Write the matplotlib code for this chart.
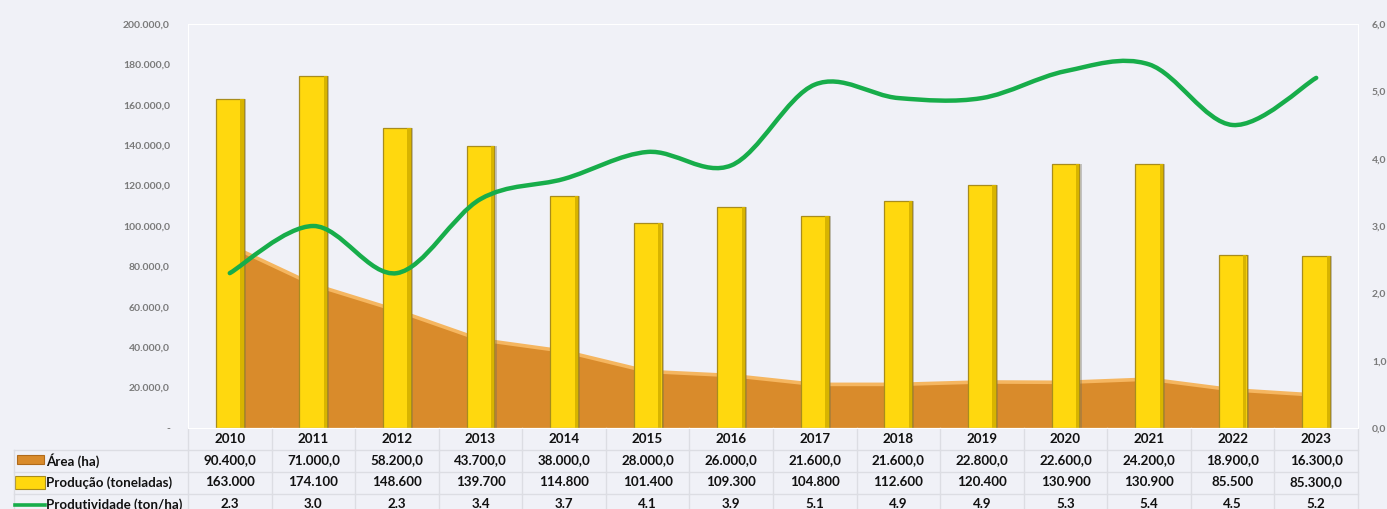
import matplotlib
matplotlib.use("Agg")
import matplotlib.pyplot as plt
from matplotlib.path import Path
from matplotlib.patches import PathPatch, Rectangle
from matplotlib.lines import Line2D
from matplotlib.ticker import FixedLocator, FuncFormatter
from matplotlib.transforms import blended_transform_factory

# ---------------- data ----------------
years = ["2010", "2011", "2012", "2013", "2014", "2015", "2016",
         "2017", "2018", "2019", "2020", "2021", "2022", "2023"]
area_ha = [90400, 71000, 58200, 43700, 38000, 28000, 26000,
           21600, 21600, 22800, 22600, 24200, 18900, 16300]
producao = [163000, 174100, 148600, 139700, 114800, 101400, 109300,
            104800, 112600, 120400, 130900, 130900, 85500, 85300]
produtividade = [2.3, 3.0, 2.3, 3.4, 3.7, 4.1, 3.9,
                 5.1, 4.9, 4.9, 5.3, 5.4, 4.5, 5.2]

area_labels = ["90.400,0", "71.000,0", "58.200,0", "43.700,0", "38.000,0",
               "28.000,0", "26.000,0", "21.600,0", "21.600,0", "22.800,0",
               "22.600,0", "24.200,0", "18.900,0", "16.300,0"]
prod_labels = ["163.000", "174.100", "148.600", "139.700", "114.800",
               "101.400", "109.300", "104.800", "112.600", "120.400",
               "130.900", "130.900", "85.500", "85.300,0"]
produt_labels = ["2.3", "3.0", "2.3", "3.4", "3.7", "4.1", "3.9",
                 "5.1", "4.9", "4.9", "5.3", "5.4", "4.5", "5.2"]
series_names = ["Área (ha)", "Produção (toneladas)", "Produtividade (ton/ha)"]

left_ticks = [0, 20000, 40000, 60000, 80000, 100000, 120000, 140000,
              160000, 180000, 200000]
right_ticks = [0, 1, 2, 3, 4, 5, 6]

# ---------------- style ----------------
BG = "#F0F1F7"
BAR = "#FFD80E"
BAR_EDGE = "#A88C1C"
AREA = "#D98B2B"
AREA_TOP = "#F5B660"
GREEN = "#17AD4A"
GRID = "#DCDDE3"
FONT = "Lato"

W, H = 1387, 509
fig = plt.figure(figsize=(W / 100, H / 100), dpi=100, facecolor=BG)

L, R, T, B = 188, 1358, 24, 428
ax = fig.add_axes([L / W, 1 - B / H, (R - L) / W, (B - T) / H], facecolor=BG)
ax2 = ax.twinx()

x = list(range(len(years)))

# area
ax.fill_between(x, 0, area_ha, color=AREA, lw=0, zorder=1)
ax.plot(x, area_ha, color=AREA_TOP, lw=2.6, zorder=1.5, solid_capstyle="butt")

# bars
bw = 0.335
# soft shadow to the right of each bar
ax.bar([i + 0.025 for i in x], producao, width=bw, color="#6E6A5A", alpha=0.35,
       linewidth=0, zorder=1.8)
ax.bar(x, producao, width=bw, color=BAR, edgecolor=BAR_EDGE, linewidth=0.9, zorder=2)
ax.bar([i + bw / 2 - 0.022 for i in x], producao, width=0.04, color="#D8B400",
       linewidth=0, zorder=2.1)

ax.set_xlim(-0.5, len(years) - 0.5)
ax.set_ylim(0, 200000)
ax2.set_ylim(0, 6)

# smooth line (Catmull-Rom -> cubic Bezier, Excel-like smoothing)
pts = list(zip(x, produtividade))
verts = [pts[0]]
codes = [Path.MOVETO]
n = len(pts)
for i in range(n - 1):
    p0 = pts[i - 1] if i > 0 else pts[i]
    p1 = pts[i]
    p2 = pts[i + 1]
    p3 = pts[i + 2] if i + 2 < n else pts[i + 1]
    c1 = (p1[0] + (p2[0] - p0[0]) / 6, p1[1] + (p2[1] - p0[1]) / 6)
    c2 = (p2[0] - (p3[0] - p1[0]) / 6, p2[1] - (p3[1] - p1[1]) / 6)
    verts += [c1, c2, p2]
    codes += [Path.CURVE4] * 3
ax2.add_patch(PathPatch(Path(verts, codes), facecolor="none", edgecolor=GREEN,
                        lw=3.2, capstyle="round", zorder=5))

# axes formatting
def fmt_left(v, pos):
    if v == 0:
        return "-"
    return f"{v:,.1f}".replace(",", "X").replace(".", ",").replace("X", ".")

def fmt_right(v, pos):
    return f"{v:.1f}".replace(".", ",")

ax.yaxis.set_major_locator(FixedLocator(left_ticks))
ax.yaxis.set_major_formatter(FuncFormatter(fmt_left))
ax2.yaxis.set_major_locator(FixedLocator(right_ticks))
ax2.yaxis.set_major_formatter(FuncFormatter(fmt_right))
ax.set_xticks([])
for a in (ax, ax2):
    a.tick_params(axis="y", length=0, labelsize=7.5, labelcolor="#7A7A7A")
    for lab in a.get_yticklabels():
        lab.set_fontfamily(FONT)
        lab.set_fontweight("bold")
    for s in a.spines.values():
        s.set_color("white")
        s.set_linewidth(0.8)
ax.tick_params(axis="y", pad=13)
ax2.tick_params(axis="y", pad=10)
ax.set_zorder(1)
ax2.set_zorder(2)
ax2.patch.set_visible(False)

# ---------------- data table ----------------
def fy(px):
    return 1 - px / H

def fx(px):
    return px / W

tr = blended_transform_factory(ax.transData, fig.transFigure)
row_lines = [428, 449.5, 471.5, 493.5]
row_centers = [439, 460.5, 482.5, 504.5]

# horizontal grid lines
fig.add_artist(Line2D([fx(14), fx(R)], [fy(449.5), fy(449.5)], color=GRID, lw=1))
for yl in row_lines[2:]:
    fig.add_artist(Line2D([fx(14), fx(R)], [fy(yl), fy(yl)], color=GRID, lw=1))
# vertical grid lines
for k in range(len(years) + 1):
    fig.add_artist(Line2D([k - 0.5, k - 0.5], [fy(428), fy(H + 5)], color=GRID, lw=1,
                          transform=tr))
fig.add_artist(Line2D([fx(14), fx(14)], [fy(449.5), fy(H + 5)], color=GRID, lw=1))

tkw = dict(fontfamily=FONT, fontweight="bold", fontsize=9.6, color="#111111",
           ha="center", va="center")
for i in x:
    fig.text(i, fy(row_centers[0]), years[i], transform=tr, **tkw)
    fig.text(i, fy(row_centers[1]), area_labels[i], transform=tr, **tkw)
    fig.text(i, fy(row_centers[2]), prod_labels[i], transform=tr, **tkw)
    fig.text(i, fy(row_centers[3]), produt_labels[i], transform=tr, **tkw)

# legend keys
fig.add_artist(Rectangle((fx(17), fy(464)), fx(27), 9 / H, facecolor=AREA,
                         edgecolor="#B06A1A", lw=0.8))
fig.add_artist(Rectangle((fx(15), fy(489)), fx(30), 13 / H, facecolor=BAR,
                         edgecolor=BAR_EDGE, lw=0.8))
fig.add_artist(Line2D([fx(15), fx(45)], [fy(504.5), fy(504.5)], color=GREEN, lw=2.6))
lkw = dict(fontfamily=FONT, fontweight="bold", fontsize=9.6, color="#111111",
           ha="left", va="center")
for name, yc in zip(series_names, row_centers[1:]):
    fig.text(fx(46), fy(yc), name, **lkw)

fig.savefig("out.png", dpi=100, facecolor=BG)
